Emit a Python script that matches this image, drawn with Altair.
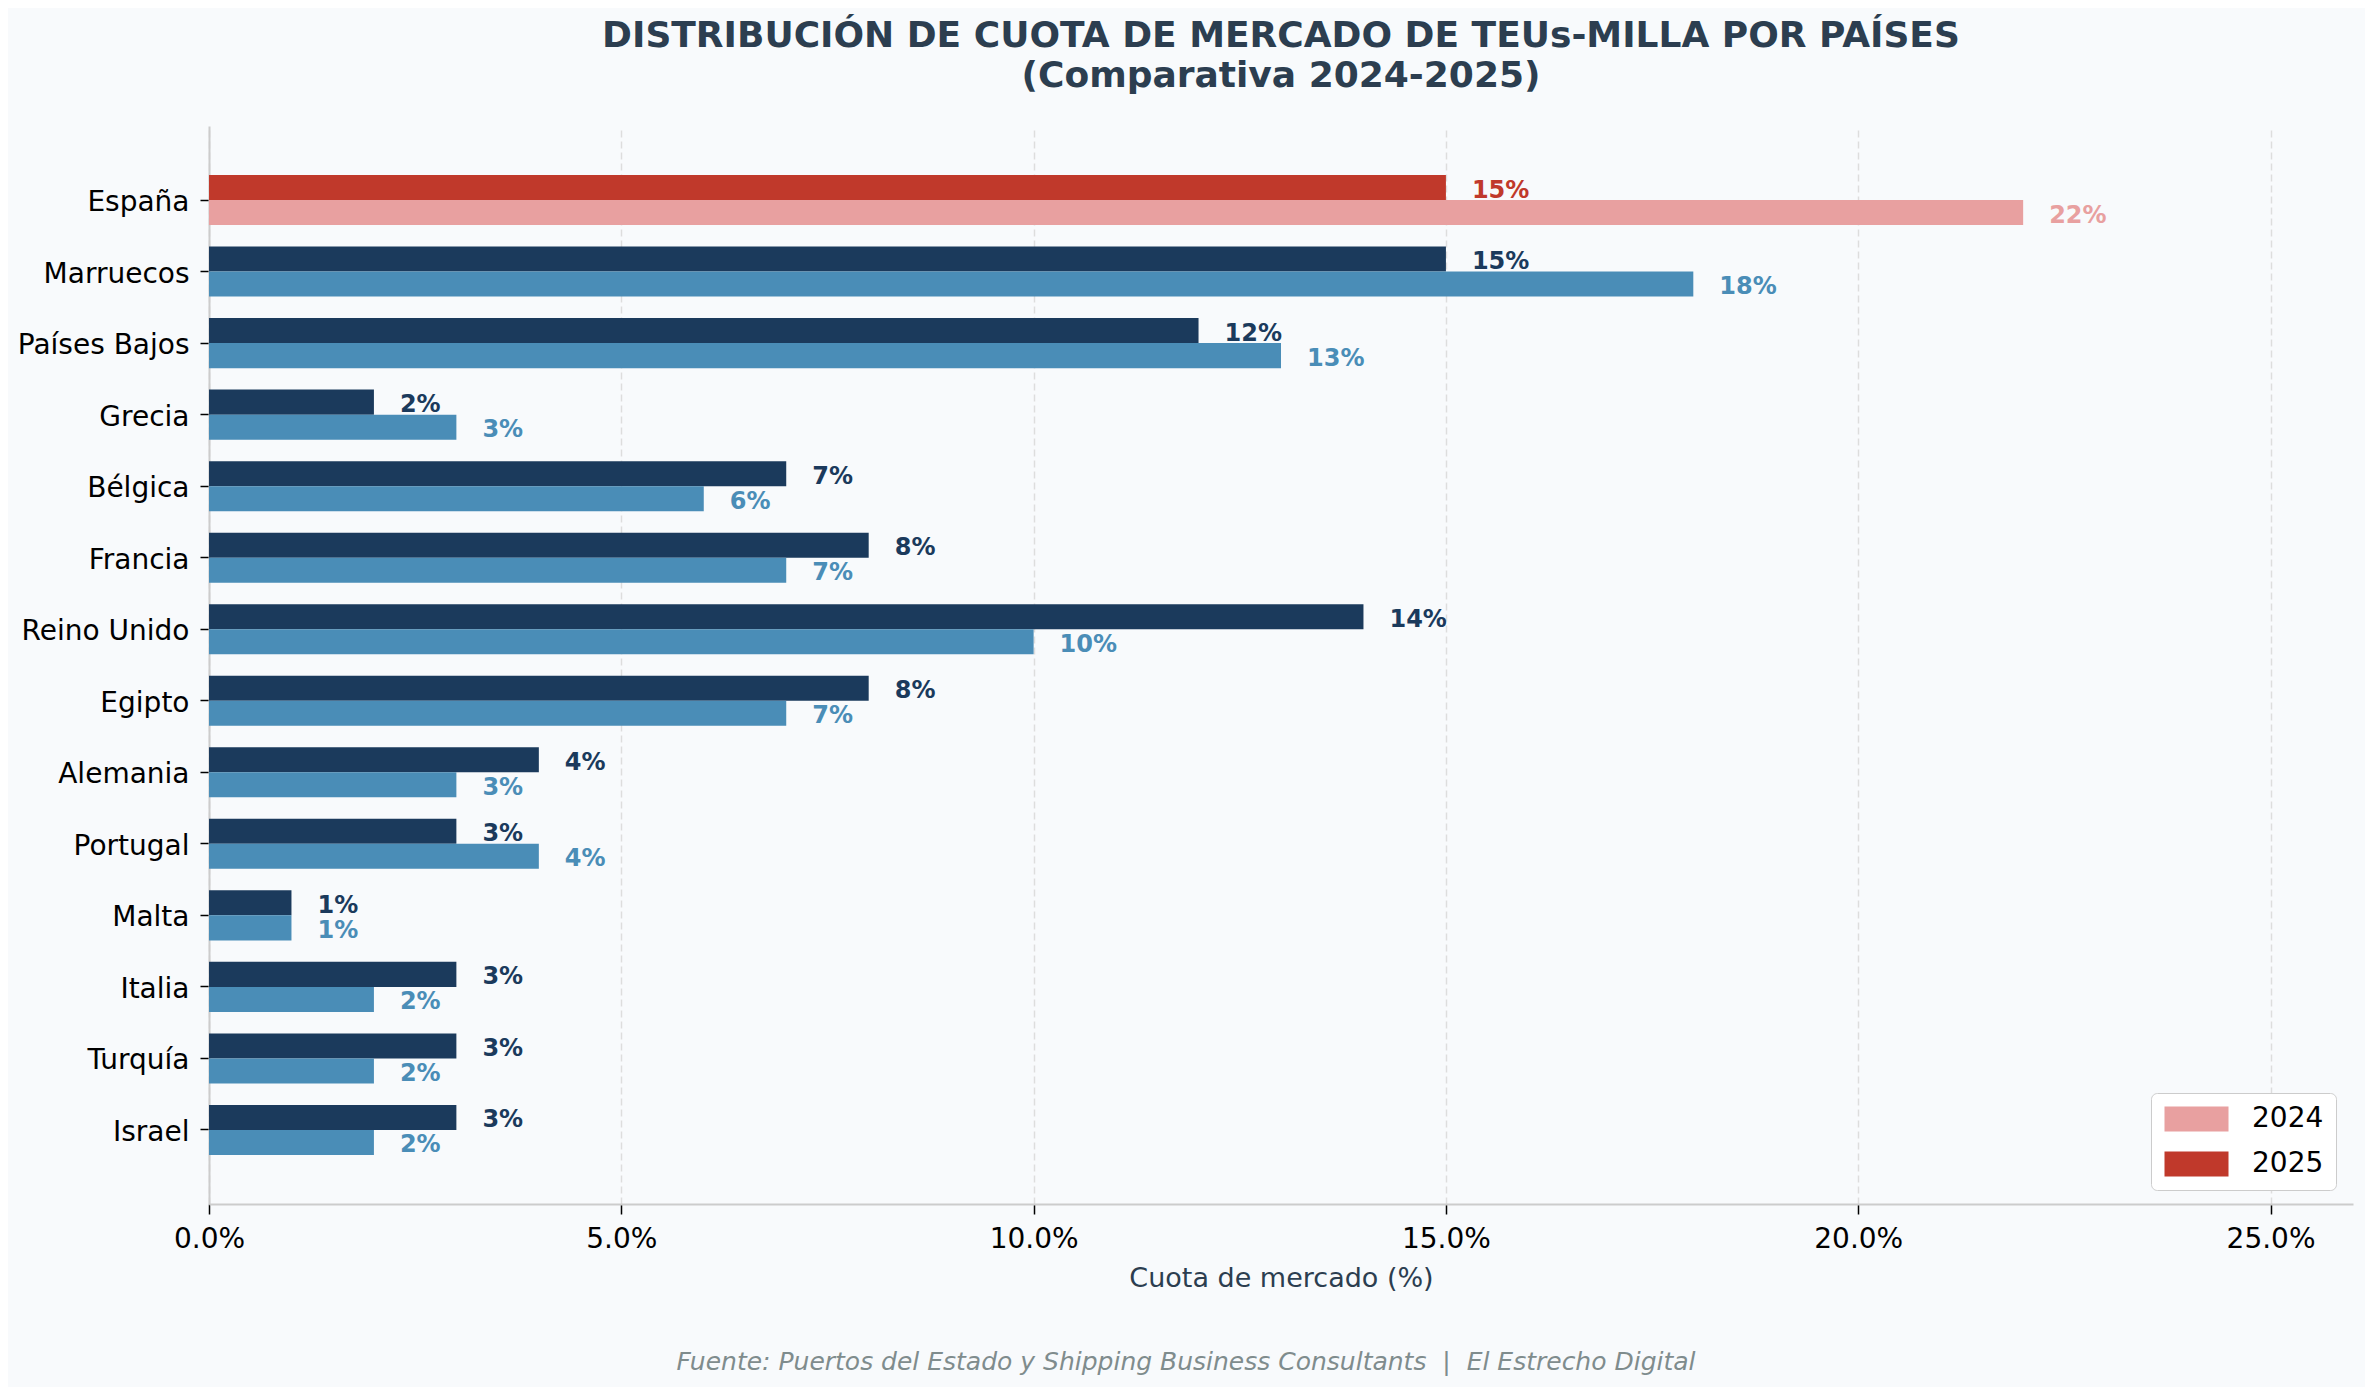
import altair as alt
import pandas as pd

paises = ["España", "Marruecos", "Países Bajos", "Grecia", "Bélgica", "Francia",
          "Reino Unido", "Egipto", "Alemania", "Portugal", "Malta", "Italia",
          "Turquía", "Israel"]
cuota_2025 = [15, 15, 12, 2, 7, 8, 14, 8, 4, 3, 1, 3, 3, 3]
cuota_2024 = [22, 18, 13, 3, 6, 7, 10, 7, 3, 4, 1, 2, 2, 2]
orden_anios = ["2025", "2024"]
ticks_x = [0, 5, 10, 15, 20, 25]
titulo = ["DISTRIBUCIÓN DE CUOTA DE MERCADO DE TEUs-MILLA POR PAÍSES",
          "(Comparativa 2024-2025)"]
titulo_x = "Cuota de mercado (%)"
fuente = ("Fuente: Puertos del Estado y Shipping Business Consultants"
          "\u00a0\u00a0|\u00a0\u00a0El Estrecho Digital")

grupos = ["2024", "2025", "otros 2024", "otros 2025"]
colores = ["#e8a0a0", "#c0392b", "#4a8db7", "#1b3a5c"]

rows = []
for p, v25, v24 in zip(paises, cuota_2025, cuota_2024):
    for anio, v in (("2025", v25), ("2024", v24)):
        grupo = anio if p == "España" else "otros " + anio
        rows.append({"pais": p, "anio": anio, "cuota": v, "grupo": grupo,
                     "etiqueta": f"{v:.0f}%"})
df = pd.DataFrame(rows)

FONT = "DejaVu Sans"
W, H = 2144, 1078

color_scale = alt.Scale(domain=grupos, range=colores)

y_enc = alt.Y(
    "pais:N", sort=paises,
    scale=alt.Scale(paddingInner=0.3, paddingOuter=0.685),
    axis=alt.Axis(title=None, labelFontSize=28, labelColor="#000000",
                  labelFont=FONT, tickColor="#000000", tickSize=9,
                  tickWidth=1.5, labelPadding=11, labelOffset=3,
                  domainColor="#cccccc", domainWidth=2, grid=False),
)
yoff = alt.YOffset("anio:N", sort=orden_anios,
                   scale=alt.Scale(paddingInner=0, paddingOuter=0))
x_enc = alt.X(
    "cuota:Q",
    scale=alt.Scale(domain=[0, 26], nice=False, zero=True),
    axis=alt.Axis(values=ticks_x, labelExpr="format(datum.value, '.1f') + '%'",
                  title=titulo_x, titleFontSize=27, titleColor="#2c3e50",
                  titleFontWeight="normal", titleFont=FONT, titleY=74,
                  titleBaseline="middle", labelFlush=False,
                  labelFontSize=28, labelColor="#000000", labelFont=FONT,
                  tickColor="#000000", tickSize=10, tickWidth=1.5,
                  labelPadding=11, domainColor="#cccccc", domainWidth=2,
                  grid=True, gridDash=[7, 4], gridColor="#dddddd",
                  gridWidth=1.5),
)

legend = alt.Legend(
    title=None, orient="none", legendX=1942, legendY=967,
    values=["2024", "2025"],
    symbolType="M-1,-1H4.12V1H-1Z", symbolSize=625, symbolStrokeWidth=0,
    labelOffset=61, labelFontSize=28, labelFont=FONT, labelColor="#000000",
    fillColor="#ffffff", strokeColor="#cccccc", cornerRadius=6,
    padding=12, rowPadding=17,
)

bars = alt.Chart(df).mark_bar().encode(
    x=x_enc, y=y_enc, yOffset=yoff,
    color=alt.Color("grupo:N", scale=color_scale, legend=legend),
)

labels = alt.Chart(df).mark_text(
    align="left", baseline="middle", dx=26, dy=3, fontSize=24,
    fontWeight="bold", font=FONT,
).encode(
    x=alt.X("cuota:Q"), y=alt.Y("pais:N", sort=paises), yOffset=yoff,
    text="etiqueta:N",
    color=alt.Color("grupo:N", scale=color_scale, legend=None),
)

source = alt.Chart(pd.DataFrame({"t": [fuente]})).mark_text(
    align="center", baseline="middle", fontSize=25, fontStyle="italic",
    font=FONT, color="#7f8c8d",
).encode(text="t:N", x=alt.value(977), y=alt.value(1236))

chart = alt.layer(bars, labels, source).properties(
    width=W, height=H,
    title=alt.TitleParams(text=titulo, fontSize=36, fontWeight="bold",
                          color="#2c3e50", anchor="middle", lineHeight=40,
                          offset=31, font=FONT),
    autosize=alt.AutoSizeParams(type="none"),
    padding={"left": 201, "top": 118, "right": 12, "bottom": 183},
    background="#f8fafc",
).configure(font=FONT).configure_view(strokeWidth=0)

chart.save("out.html", embed_options={"renderer": "svg", "actions": False})
